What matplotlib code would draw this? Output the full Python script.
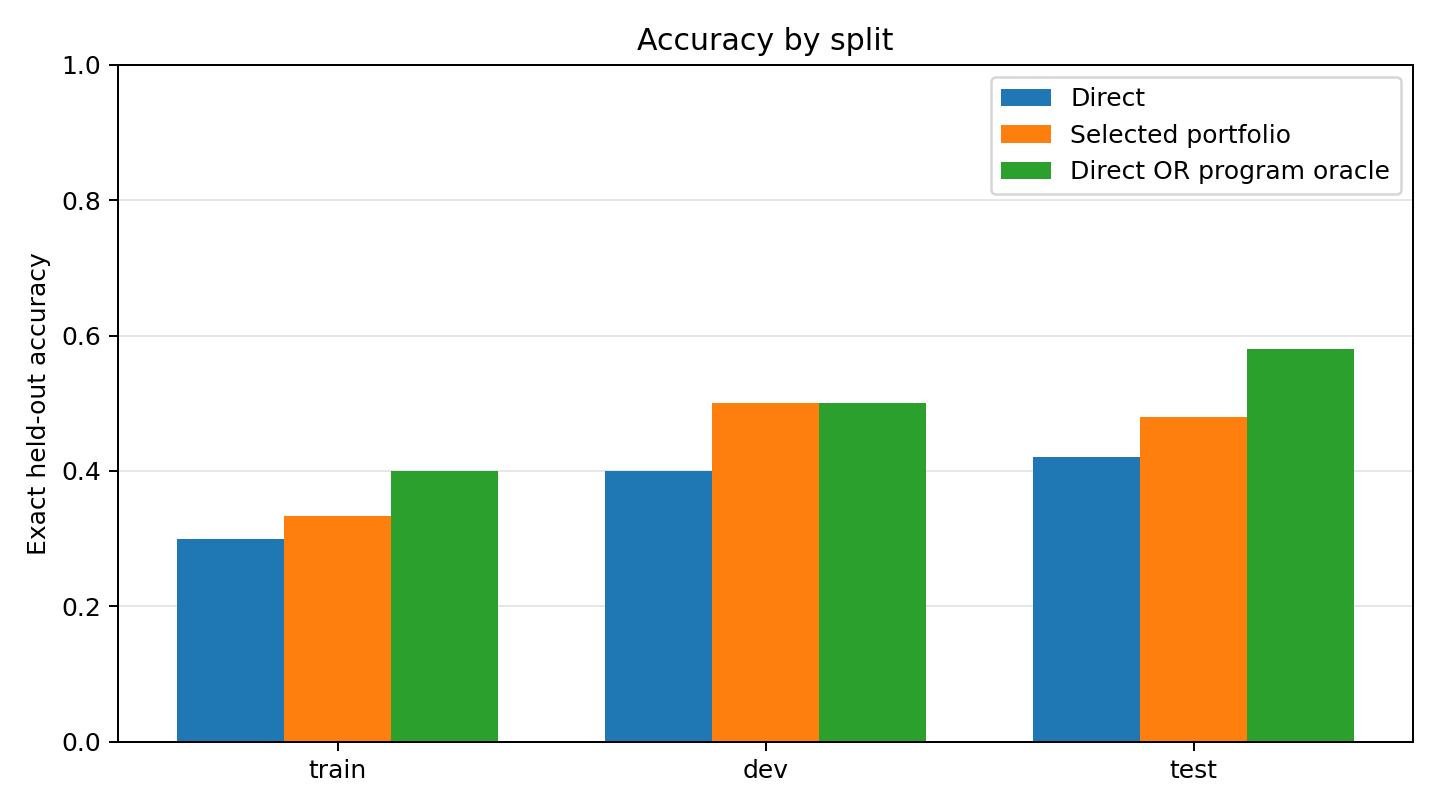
import numpy as np
import matplotlib
matplotlib.use("Agg")
import matplotlib.pyplot as plt

splits = ["train", "dev", "test"]
direct = [0.30, 0.40, 0.42]
selected = [0.333, 0.50, 0.48]
oracle = [0.40, 0.50, 0.58]

series = [("Direct", direct), ("Selected portfolio", selected), ("Direct OR program oracle", oracle)]

fig, ax = plt.subplots(figsize=(8, 4.5), dpi=180)
x = np.arange(len(splits))
w = 0.25
for i, (name, vals) in enumerate(series):
    ax.bar(x + (i - 1) * w, vals, width=w, label=name)

ax.set_xticks(x)
ax.set_xticklabels(splits)
ax.set_ylim(0, 1.0)
ax.set_ylabel("Exact held-out accuracy")
ax.set_title("Accuracy by split")
ax.grid(axis="y", alpha=0.3)
ax.set_axisbelow(True)
ax.legend(loc="upper right")
fig.tight_layout()
fig.savefig("out.png")
